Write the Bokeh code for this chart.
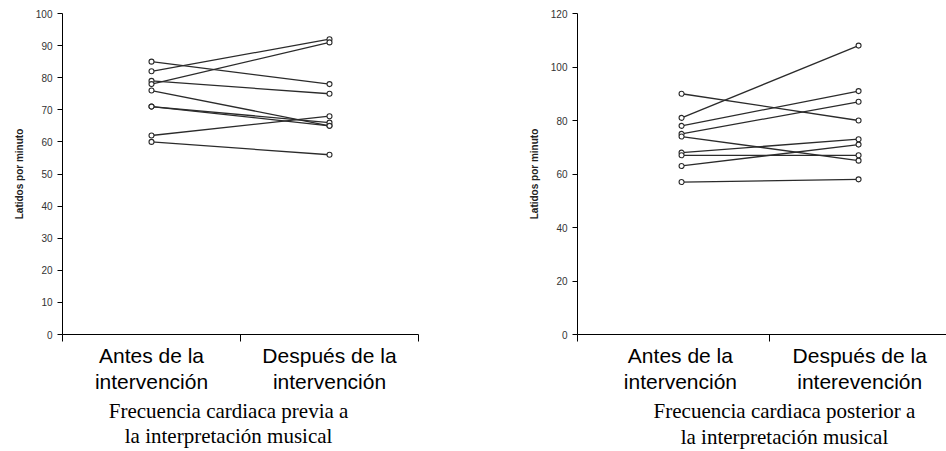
from bokeh.plotting import figure
from bokeh.layouts import row
from bokeh.models import Range1d, FixedTicker, LinearAxis, ColumnDataSource
from bokeh.embed import file_html
from bokeh.resources import INLINE

# ---- data ----
categories_left = ["Antes de la\nintervención", "Después de la\nintervención"]
categories_right = ["Antes de la\nintervención", "Después de la\ninterevención"]
left_before = [85, 82, 79, 78, 76, 71, 71, 62, 60]
left_after = [78, 92, 75, 91, 65, 66, 65, 68, 56]
right_before = [90, 81, 78, 75, 74, 68, 67, 63, 57]
right_after = [80, 108, 91, 87, 65, 73, 67, 71, 58]
left_yticks = [0, 10, 20, 30, 40, 50, 60, 70, 80, 90, 100]
right_yticks = [0, 20, 40, 60, 80, 100, 120]
ylabel = "Latidos por minuto"
caption_left = "Frecuencia cardiaca previa a\nla interpretación musical"
caption_right = "Frecuencia cardiaca posterior a\nla interpretación musical"

SANS = "Liberation Sans"
SERIF = "Liberation Serif"
INK = "#2b2b2b"


def panel(width, before, after, xpos, yticks, x_end, borders, cat_labels,
          cat_x, caption, cap_x, cat_standoff, cap_standoff, cap_lh):
    p = figure(width=width, height=451, output_backend="svg", toolbar_location=None,
               x_range=Range1d(0, x_end), y_range=Range1d(yticks[0], yticks[-1]),
               min_border_left=borders[0], min_border_right=borders[1],
               min_border_top=borders[2], min_border_bottom=borders[3])
    p.outline_line_color = None
    p.grid.grid_line_color = None
    p.background_fill_color = "white"
    p.border_fill_color = "white"

    xs = [[xpos[0], xpos[1]] for _ in before]
    ys = [[b, a] for b, a in zip(before, after)]
    p.multi_line(xs=xs, ys=ys, line_color=INK, line_width=1.3)
    src = ColumnDataSource(dict(x=[xpos[0]] * len(before) + [xpos[1]] * len(after),
                                y=list(before) + list(after)))
    p.scatter("x", "y", source=src, size=5, marker="circle", fill_color="white",
              line_color=INK, line_width=1.1)

    ya = p.yaxis[0]
    ya.ticker = FixedTicker(ticks=yticks)
    ya.minor_tick_line_color = None
    ya.major_tick_in = 0
    ya.major_tick_out = 5
    ya.axis_line_color = "black"
    ya.major_tick_line_color = "black"
    ya.major_label_text_font = SANS
    ya.major_label_text_font_size = "10px"
    ya.major_label_text_color = "#333333"
    ya.axis_label = ylabel
    ya.axis_label_text_font = SANS
    ya.axis_label_text_font_style = "bold"
    ya.axis_label_text_font_size = "10px"
    ya.axis_label_text_color = "#222222"
    ya.axis_label_standoff = 8

    xa = p.xaxis[0]
    xa.ticker = FixedTicker(ticks=list(cat_x), minor_ticks=[0, 1, 2])
    xa.major_label_overrides = {cx: lab for cx, lab in zip(cat_x, cat_labels)}
    xa.major_label_text_font = SANS
    xa.major_label_text_font_size = "21px"
    xa.major_label_text_color = "black"
    xa.major_label_text_line_height = 1.15
    xa.major_label_standoff = cat_standoff
    xa.major_tick_in = 0
    xa.major_tick_out = 0
    xa.minor_tick_in = 0
    xa.minor_tick_out = 7
    xa.minor_tick_line_color = "black"
    xa.axis_line_color = "black"

    cap = LinearAxis(ticker=FixedTicker(ticks=[cap_x]),
                     major_label_overrides={cap_x: caption})
    cap.axis_line_color = None
    cap.major_tick_line_color = None
    cap.minor_tick_line_color = None
    cap.major_tick_out = 0
    cap.major_tick_in = 0
    cap.major_label_standoff = cap_standoff
    cap.major_label_text_font = SERIF
    cap.major_label_text_font_size = "21px"
    cap.major_label_text_color = "black"
    cap.major_label_text_line_height = cap_lh
    p.add_layout(cap, "below")
    return p


left = panel(473, left_before, left_after, [0.5, 1.5], left_yticks, 2.0,
             (62, 55, 13, 113), categories_left, [0.5, 1.5],
             caption_left, 0.933, 2, 3, 1.05)
right = panel(473, right_before, right_after, [0.542, 1.464], right_yticks, 1.922,
              (104, 0, 13, 117), categories_right, [0.536, 1.47],
              caption_right, 1.078, 2, 3, 1.1)

layout = row(left, right)
open("out.html", "w").write(file_html(layout, INLINE))
